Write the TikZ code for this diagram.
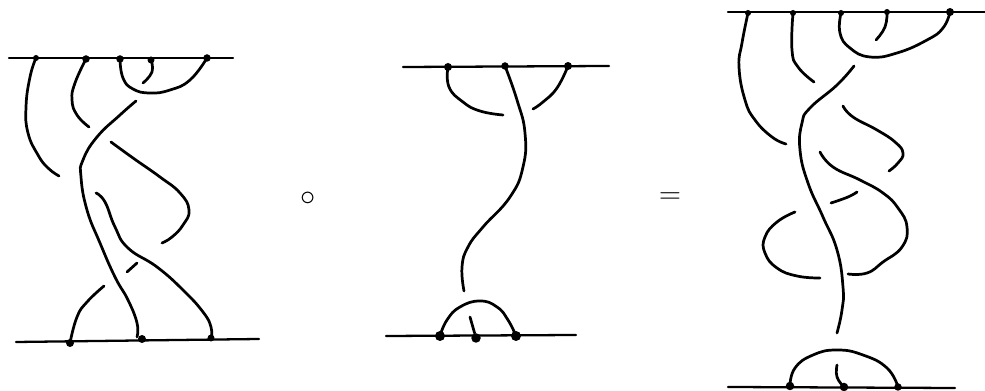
\documentclass[tikz,border=0pt]{standalone}
\usepackage{amsmath,amssymb}
\usetikzlibrary{positioning}

\begin{document}
\begin{tikzpicture}[x=0.02cm, y=-0.02cm]
\tikzstyle{bar} = [draw, line width=1.3pt, line cap=round]
\tikzstyle{strand} = [draw, line width=1.55pt, line cap=round, line join=round]
\tikzstyle{curve} = [smooth, tension=0.8]
\tikzstyle{pin} = [circle, fill=black, inner sep=0pt, minimum size=0.12cm]

\useasboundingbox (0,0) rectangle (985,391);

% left braid
\coordinate (lta) at (9,58);
\coordinate (ltb) at (233,58);
\coordinate (lba) at (16,342);
\coordinate (lbb) at (259,339);
\draw [bar] (lta) -- (ltb);
\draw [bar] (lba) -- (lbb);
\node (lt1) [pin] at (36,58) {};
\node (lt2) [pin, minimum size=0.15cm] at (86,59) {};
\node (lt3) [pin, minimum size=0.15cm] at (120,59) {};
\node (lt4) [pin, minimum size=0.14cm] at (151,60) {};
\node (lt5) [pin, minimum size=0.15cm] at (207,58) {};
\node (lb1) [pin, minimum size=0.16cm] at (70,343) {};
\node (lb2) [pin, minimum size=0.16cm] at (142,339) {};
\node (lb3) [pin, minimum size=0.14cm] at (211,338) {};

\draw [strand] plot[curve] coordinates {(lt1) (30,77) (26,107) (28,133) (38,155) (48,168) (59,176)};
\draw [strand] plot[curve] coordinates {(lt2) (75,83) (72,100) (77,115) (89,127)};
\draw [strand] plot[curve] coordinates {(lt3) (123,78) (133,89) (150,93) (170,90) (190,80) (lt5)};
\draw [strand] plot[curve] coordinates {(lt4) (152,72) (143,83)};
\draw [strand] plot[curve] coordinates {(136,101) (120,115) (97,137) (83,160) (81,177) (87,210) (100,243) (115,277) (128,300) (137,323) (137,337)};
\draw [strand] plot[curve] coordinates {(111,142) (133,158) (160,177) (180,193) (189,210) (183,225) (172,237) (162,243)};
\draw [strand] plot[curve] coordinates {(96,193) (105,202) (115,227) (128,248) (157,267) (183,290) (203,312) (211,327) (lb3)};
\draw [strand] plot[curve] coordinates {(127,272) (137,263)};
\draw [strand] plot[curve] coordinates {(104,286) (87,302) (77,317) (lb1)};

\node (comp) at (308,199) {\LARGE$\circ$};

% middle braid
\coordinate (mta) at (403,67);
\coordinate (mtb) at (609,66);
\coordinate (mba) at (386,336);
\coordinate (mbb) at (576,335);
\draw [bar] (mta) -- (mtb);
\draw [bar] (mba) -- (mbb);
\node (mt1) [pin, minimum size=0.16cm] at (448,67) {};
\node (mt2) [pin, minimum size=0.15cm] at (505,66) {};
\node (mt3) [pin, minimum size=0.16cm] at (568,66) {};
\node (mb1) [pin, minimum size=0.2cm] at (440,336) {};
\node (mb2) [pin, minimum size=0.19cm] at (476,338) {};
\node (mb3) [pin, minimum size=0.2cm] at (516,336) {};

\draw [strand] plot[curve] coordinates {(mt1) (449,87) (463,102) (480,111) (503,115)};
\draw [strand] plot[curve] coordinates {(mt2) (517,100) (525,133) (523,167) (510,197) (483,227) (468,247) (462,267) (464,291)};
\draw [strand] plot[curve] coordinates {(mt3) (557,88) (543,102) (533,109)};
\draw [strand] plot[curve] coordinates {(mb1) (447,320) (460,307) (480,301) (497,307) (508,320) (mb3)};
\draw [strand] (470,317) -- (mb2);

\node (equ) at (670,198.5) {\LARGE$=$};

% right braid
\coordinate (rta) at (728,12);
\coordinate (rtb) at (985,12);
\coordinate (rba) at (728,387);
\coordinate (rbb) at (955,388);
\draw [bar] (rta) -- (rtb);
\draw [bar] (rba) -- (rbb);
\node (rt1) [pin] at (748,13) {};
\node (rt2) [pin] at (793,13) {};
\node (rt3) [pin] at (841,13) {};
\node (rt4) [pin] at (887,12) {};
\node (rt5) [pin, minimum size=0.16cm] at (950,12) {};
\node (rb1) [pin, minimum size=0.17cm] at (790,386) {};
\node (rb2) [pin, minimum size=0.17cm] at (844,387) {};
\node (rb3) [pin, minimum size=0.15cm] at (898,387) {};

\draw [strand] plot[curve] coordinates {(rt1) (742,43) (739,67) (745,100) (755,120) (772,137) (786,144)};
\draw [strand] plot[curve] coordinates {(rt2) (792,50) (798,67) (814,82)};
\draw [strand] plot[curve] coordinates {(rt3) (840,33) (850,48) (870,57) (897,53) (927,40) (943,28) (rt5)};
\draw [strand] plot[curve] coordinates {(rt4) (885,27) (876,40)};
\draw [strand] plot[curve] coordinates {(854,66) (837,85) (810,108) (802,123) (800,150) (808,183) (823,217) (837,250) (843,287) (842,310) (837,333)};
\draw [strand] plot[curve] coordinates {(843,106) (853,117) (877,130) (895,142) (903,153) (898,163) (889,171)};
\draw [strand] plot[curve] coordinates {(820,152) (833,167) (860,180) (883,193) (898,208) (907,227) (902,247) (883,262) (867,273) (848,274)};
\draw [strand] plot[curve] coordinates {(831,203) (848,197) (857,192)};
\draw [strand] plot[curve] coordinates {(795,212) (777,222) (765,237) (765,253) (777,268) (797,276) (820,278)};
\draw [strand] plot[curve] coordinates {(rb1) (795,368) (813,355) (837,350) (863,355) (887,368) (rb3)};
\draw [strand] plot[curve] coordinates {(837,365) (837,377) (rb2)};
\end{tikzpicture}
\end{document}
